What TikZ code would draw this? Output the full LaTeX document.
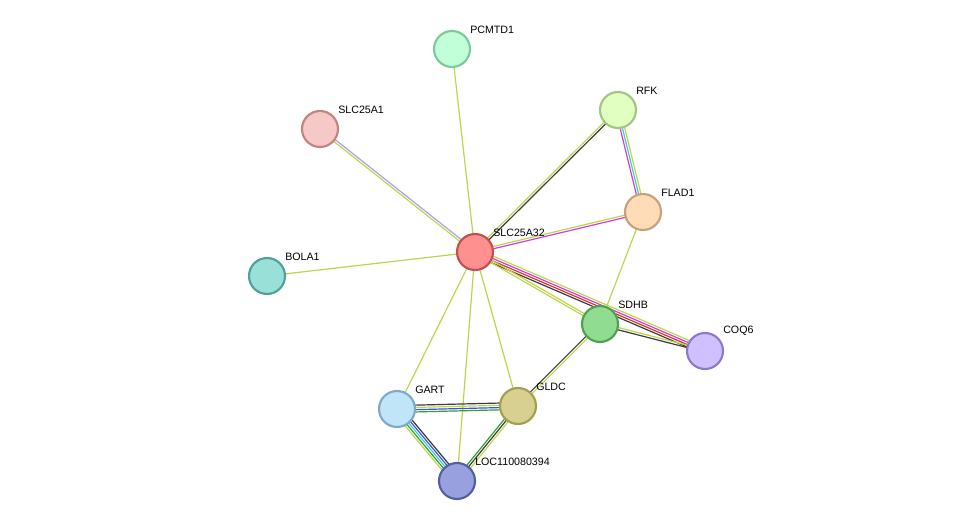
\documentclass[tikz,border=0pt]{standalone}
\usepackage{fontspec}
\setmainfont{Liberation Sans}
\usetikzlibrary{calc}
% edge colours
\definecolor{txt}{HTML}{BCD64A}
\definecolor{coex}{HTML}{3C3C3C}
\definecolor{db}{HTML}{40C8E0}
\definecolor{expr}{HTML}{D040D0}
\definecolor{nbh}{HTML}{30A030}
\definecolor{fus}{HTML}{E03030}
\definecolor{cooc}{HTML}{4050E0}
\definecolor{homo}{HTML}{A8A0F0}
% node colours
\definecolor{pcmF}{HTML}{C0FFD8}\definecolor{pcmD}{HTML}{80C89C}
\definecolor{s1F}{HTML}{F7C8C8}\definecolor{s1D}{HTML}{C08484}
\definecolor{rfkF}{HTML}{E0FFC0}\definecolor{rfkD}{HTML}{A4C484}
\definecolor{flaF}{HTML}{FFDCB8}\definecolor{flaD}{HTML}{C8A07C}
\definecolor{s32F}{HTML}{FF9090}\definecolor{s32D}{HTML}{C05050}
\definecolor{bolF}{HTML}{98E0D8}\definecolor{bolD}{HTML}{50A098}
\definecolor{sdhF}{HTML}{90DC90}\definecolor{sdhD}{HTML}{50A050}
\definecolor{coqF}{HTML}{D0C0FF}\definecolor{coqD}{HTML}{9078C8}
\definecolor{garF}{HTML}{C0E4F8}\definecolor{garD}{HTML}{80A8C8}
\definecolor{gldF}{HTML}{D8D090}\definecolor{gldD}{HTML}{A0A050}
\definecolor{locF}{HTML}{98A0E0}\definecolor{locD}{HTML}{5060A0}
% draw a bundle of parallel lines between two nodes
\newcommand{\bundle}[4]{% from, to, count, colours
  \foreach \c [count=\i] in {#4} {
    \pgfmathsetmacro{\o}{(\i-(#3+1)/2)*1.7}
    \draw[line width=0.9pt,\c] ($(#1)!\o pt!90:(#2)$) -- ($(#2)!\o pt!-90:(#1)$);
  }}
\begin{document}
\begin{tikzpicture}[x=0.75pt,y=-0.75pt,
    prot/.style={circle, draw, line width=1.6pt, minimum size=27pt, inner sep=0pt},
    lbl/.style={anchor=south west, font=\fontsize{8}{9}\selectfont, inner sep=0pt}]
\useasboundingbox (0,0) rectangle (976,527);
% -------------------------------------------------
% coordinates of the proteins
\coordinate (pcm) at (452,49);
\coordinate (s1)  at (320,129);
\coordinate (rfk) at (618,110);
\coordinate (fla) at (643,212);
\coordinate (s32) at (475,252);
\coordinate (bol) at (267,276);
\coordinate (sdh) at (600,324);
\coordinate (coq) at (705,351);
\coordinate (gar) at (397,409);
\coordinate (gld) at (518,406);
\coordinate (loc) at (457,481);
% -------------------------------------------------
% connectors
\bundle{s32}{pcm}{1}{txt}
\bundle{s32}{s1}{2}{homo,txt}
\bundle{s32}{rfk}{2}{coex,txt}
\bundle{s32}{fla}{2}{expr,txt}
\bundle{s32}{bol}{1}{txt}
\bundle{s32}{coq}{4}{coex,fus,expr,txt}
\bundle{s32}{sdh}{2}{txt,txt}
\bundle{s32}{gar}{1}{txt}
\bundle{s32}{gld}{1}{txt}
\bundle{s32}{loc}{1}{txt}
\bundle{rfk}{fla}{3}{expr,db,txt}
\bundle{fla}{sdh}{1}{txt}
\bundle{sdh}{coq}{2}{coex,txt}
\bundle{sdh}{gld}{2}{coex,txt}
\bundle{gar}{gld}{4}{nbh,cooc,txt,coex}
\bundle{gar}{loc}{5}{txt,nbh,db,cooc,coex}
\bundle{gld}{loc}{3}{nbh,coex,txt}
% -------------------------------------------------
% proteins
\node[prot, fill=pcmF, draw=pcmD] (PCMTD1) at (pcm) {};
\node[prot, fill=s1F, draw=s1D] (SLC25A1) at (s1) {};
\node[prot, fill=rfkF, draw=rfkD] (RFK) at (rfk) {};
\node[prot, fill=flaF, draw=flaD] (FLAD1) at (fla) {};
\node[prot, fill=s32F, draw=s32D] (SLC25A32) at (s32) {};
\node[prot, fill=bolF, draw=bolD] (BOLA1) at (bol) {};
\node[prot, fill=sdhF, draw=sdhD] (SDHB) at (sdh) {};
\node[prot, fill=coqF, draw=coqD] (COQ6) at (coq) {};
\node[prot, fill=garF, draw=garD] (GART) at (gar) {};
\node[prot, fill=gldF, draw=gldD] (GLDC) at (gld) {};
\node[prot, fill=locF, draw=locD] (LOC) at (loc) {};
% labels
\foreach \n/\t in {PCMTD1/PCMTD1, SLC25A1/SLC25A1, RFK/RFK, FLAD1/FLAD1,
    SLC25A32/SLC25A32, BOLA1/BOLA1, SDHB/SDHB, COQ6/COQ6, GART/GART,
    GLDC/GLDC, LOC/LOC110080394}
  \node[lbl] at ($(\n)+(18,-15)$) {\t};
\end{tikzpicture}
\end{document}
